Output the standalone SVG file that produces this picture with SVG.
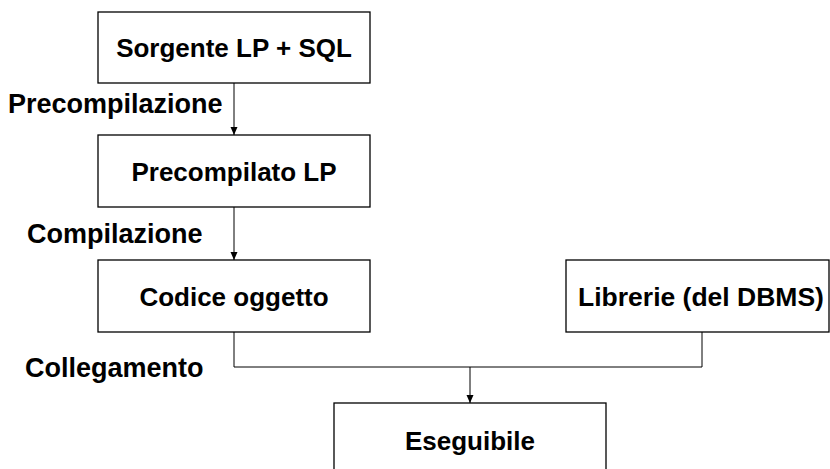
<svg xmlns="http://www.w3.org/2000/svg" width="830" height="469" viewBox="0 0 830 469">
<defs>
<style>
.box{fill:#fff;stroke:#000;stroke-width:1.3}
.t{font-family:"Liberation Sans",Arial,sans-serif;font-weight:bold;font-size:26px;fill:#000}
.lb{font-size:27px}
.c{text-anchor:middle}
.ln{fill:none;stroke:#000;stroke-width:1}
</style>
<marker id="ah" markerWidth="8" markerHeight="10" refX="8" refY="3.5" orient="auto" markerUnits="userSpaceOnUse">
<path d="M0,0 L8,3.5 L0,7 Z" fill="#000"/>
</marker>
</defs>
<rect width="830" height="469" fill="#fff"/>
<g id="connectors">
<line class="ln" x1="234" y1="83" x2="234" y2="135" marker-end="url(#ah)"/>
<line class="ln" x1="234" y1="207" x2="234" y2="260" marker-end="url(#ah)"/>
<polyline class="ln" points="234,332 234,367 702,367 702,332"/>
<line class="ln" x1="470" y1="367" x2="470" y2="403" marker-end="url(#ah)"/>
<text class="t lb" x="8" y="113">Precompilazione</text>
<text class="t lb" x="27" y="243">Compilazione</text>
<text class="t lb" x="25" y="377">Collegamento</text>
</g>
<g id="sorgente">
<rect class="box" x="98" y="12" width="272" height="71"/>
<text class="t c" x="234" y="57">Sorgente LP + SQL</text>
</g>
<g id="precompilato">
<rect class="box" x="98" y="135" width="272" height="72"/>
<text class="t c" x="234" y="181">Precompilato LP</text>
</g>
<g id="codice">
<rect class="box" x="98" y="260" width="272" height="72"/>
<text class="t c" x="234" y="306">Codice oggetto</text>
</g>
<g id="librerie">
<rect class="box" x="566" y="260" width="263" height="72"/>
<text class="t c" x="701" y="306" style="font-size:26.5px">Librerie (del DBMS)</text>
</g>
<g id="eseguibile">
<rect class="box" x="334" y="403" width="272" height="80"/>
<text class="t c" x="470" y="450">Eseguibile</text>
</g>
</svg>
